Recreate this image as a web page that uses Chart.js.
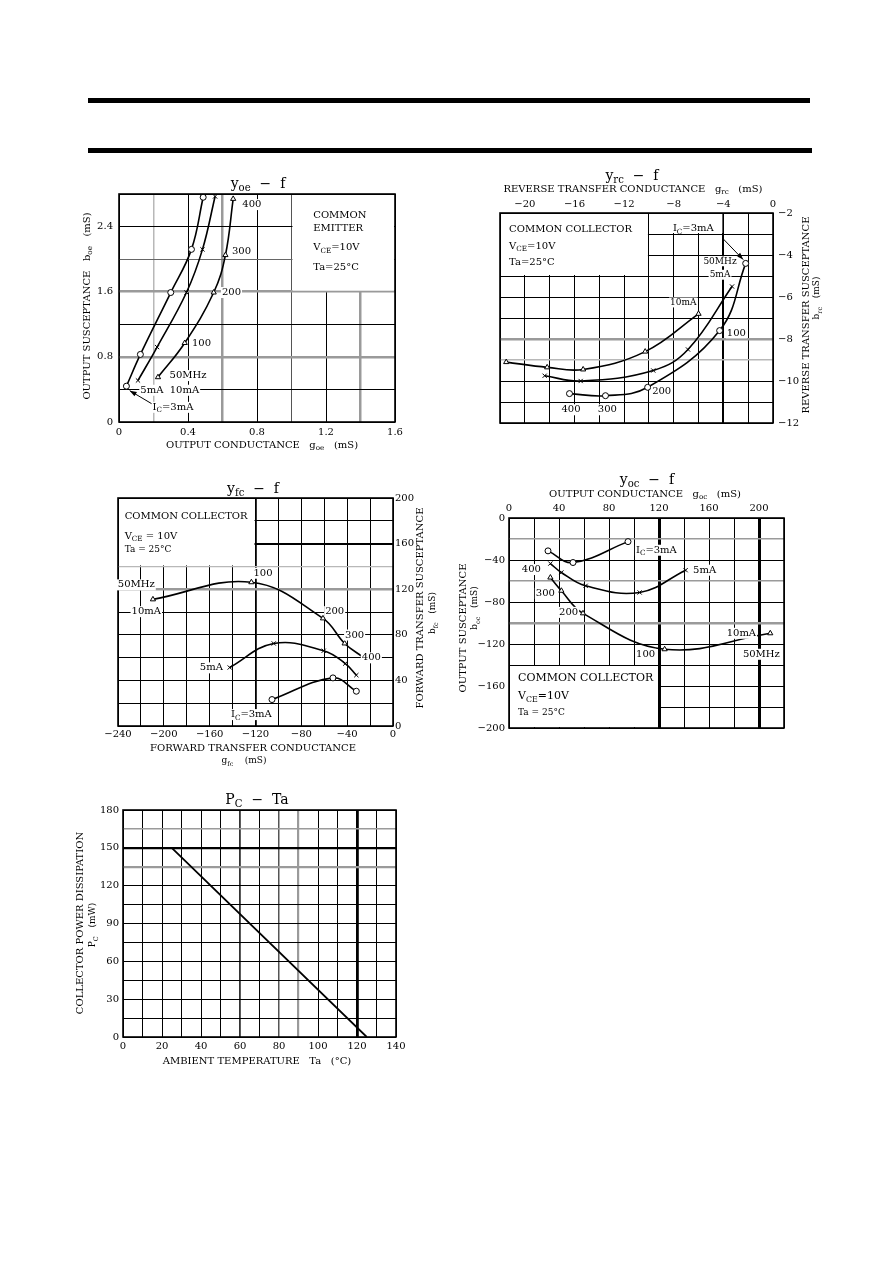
<!DOCTYPE html>
<html><head><meta charset="utf-8">
<script src="https://cdn.jsdelivr.net/npm/chart.js@4.4.1/dist/chart.umd.min.js"></script>
<style>
html,body{margin:0;padding:0;background:#fff;}
body{width:892px;height:1263px;position:relative;overflow:hidden;}
.bar{position:absolute;background:#000;}
.cw{position:absolute;}
</style></head><body>
<div class="bar" style="left:88px;top:98px;width:722px;height:5px"></div>
<div class="bar" style="left:88px;top:148px;width:724px;height:5px"></div>
<div class="cw" id="w1"><canvas id="c1"></canvas></div>
<div class="cw" id="w2"><canvas id="c2"></canvas></div>
<div class="cw" id="w3"><canvas id="c3"></canvas></div>
<div class="cw" id="w4"><canvas id="c4"></canvas></div>
<div class="cw" id="w5"><canvas id="c5"></canvas></div>
<script>
// ---------------- DATA ----------------
// Frequencies of the marked points on each curve (50MHz ... 400MHz)
const freqLabels = ['50MHz', '100', '200', '300', '400'];

// yoe - f (common emitter): g_oe (mS) vs b_oe (mS)
const yoeG_3mA  = [0.043, 0.124, 0.300, 0.420, 0.488];
const yoeB_3mA  = [0.44, 0.83, 1.59, 2.12, 2.76];
const yoeG_5mA  = [0.110, 0.221, 0.391, 0.484, 0.557];
const yoeB_5mA  = [0.51, 0.92, 1.59, 2.12, 2.77];
const yoeG_10mA = [0.226, 0.381, 0.549, 0.617, 0.662];
const yoeB_10mA = [0.55, 0.97, 1.59, 2.05, 2.74];
const yoeXLabels = [0, 0.4, 0.8, 1.2, 1.6];
const yoeYLabels = [0, 0.8, 1.6, 2.4];

// yrc - f (common collector): g_rc (mS) vs b_rc (mS)
const yrcG_3mA  = [-2.2, -4.3, -10.1, -13.5, -16.4];
const yrcB_3mA  = [-4.4, -7.6, -10.3, -10.7, -10.6];
const yrcG_5mA  = [-3.3, -6.85, -9.65, -15.5, -18.4];
const yrcB_5mA  = [-5.5, -8.5, -9.5, -10.0, -9.75];
const yrcG_10mA = [-6.0, -10.3, -15.3, -18.2, -21.5];
const yrcB_10mA = [-6.8, -8.6, -9.45, -9.35, -9.1];
const yrcXLabels = [-20, -16, -12, -8, -4, 0];
const yrcYLabels = [-2, -4, -6, -8, -10, -12];

// yfc - f (common collector): g_fc (mS) vs b_fc (mS)
const yfcG_10mA = [-209.5, -123.6, -61.1, -42.2, -25.3];
const yfcB_10mA = [111.1, 126.1, 94.4, 72.4, 59.8];
const yfcG_5mA  = [-142.5, -104.1, -60.5, -41.6, -32.0];
const yfcB_5mA  = [51.3, 72.4, 66.0, 54.8, 44.6];
const yfcG_3mA  = [-105.6, -52.4, -32.0];
const yfcB_3mA  = [23.2, 42.2, 30.5];
const yfcXLabels = [-240, -200, -160, -120, -80, -40, 0];
const yfcYLabels = [0, 40, 80, 120, 160, 200];

// yoc - f (common collector): g_oc (mS) vs b_oc (mS)
const yocG_3mA  = [95.2, 51.2, 31.2];
const yocB_3mA  = [-22.5, -42.4, -31.3];
const yocG_5mA  = [141.3, 104.5, 61.3, 41.9, 33.1];
const yocB_5mA  = [-49.7, -70.9, -64.6, -51.9, -43.4];
const yocG_10mA = [209.0, 124.5, 59.2, 41.9, 33.1];
const yocB_10mA = [-109.8, -125.0, -90.8, -69.3, -56.7];
const yocXLabels = [0, 40, 80, 120, 160, 200];
const yocYLabels = [0, -40, -80, -120, -160, -200];

// Pc - Ta derating
const pcTemp  = [0, 25, 125];
const pcPower = [150, 150, 0];
const pcXLabels = [0, 20, 40, 60, 80, 100, 120, 140];
const pcYLabels = [0, 30, 60, 90, 120, 150, 180];

// ---------------- HELPERS ----------------
const SERIF = '"DejaVu Serif", "Liberation Serif", serif';
const FS = 10;
const PAD = 80;
const AX_H = 30, AX_W = 40;

function near(v, arr) { return arr.some(a => Math.abs(a - v) < 1e-6); }
function fmt(v) { const n = Math.round(v * 1000) / 1000; return (n < 0 ? '\u2212' : '') + String(Math.abs(n)); }

function gridStyle(spec) {
  const find = v => spec.find(s => Math.abs(s[0] - v) < 1e-6);
  return {
    drawTicks: false,
    color: c => { const s = c.tick && find(c.tick.value); return s ? s[1] : '#000'; },
    lineWidth: c => { const s = c.tick && find(c.tick.value); return s ? s[2] : 1; }
  };
}

function axis(pos, min, max, step, labels, spec, pad) {
  const horiz = pos === 'top' || pos === 'bottom';
  return {
    type: 'linear', position: pos, min: min, max: max,
    afterBuildTicks: s => {
      const t = [];
      const n = Math.round((max - min) / step);
      for (let i = 0; i <= n; i++) t.push({ value: Math.round((min + i * step) * 1e6) / 1e6 });
      s.ticks = t;
    },
    ticks: {
      autoSkip: false, maxRotation: 0, minRotation: 0, padding: pad, color: '#000',
      font: { family: SERIF, size: FS },
      callback: v => near(v, labels) ? fmt(v) : ''
    },
    grid: gridStyle(spec),
    border: { display: false },
    title: { display: false },
    afterFit: s => {
      if (horiz) s.height = AX_H; else s.width = AX_W;
      s.paddingLeft = 0; s.paddingRight = 0; s.paddingTop = 0; s.paddingBottom = 0;
    }
  };
}

function series(xs, ys, style) {
  return {
    data: xs.map((v, i) => ({ x: v, y: ys[i] })),
    showLine: true, tension: 0.4,
    borderColor: '#000', borderWidth: 1.6,
    pointStyle: style, pointRadius: style ? 3 : 0, pointBorderWidth: 1,
    pointBorderColor: '#000', pointBackgroundColor: '#fff'
  };
}

function parseRich(s) {
  const runs = []; const re = /_\{([^}]*)\}/g; let last = 0, m;
  while ((m = re.exec(s))) {
    if (m.index > last) runs.push({ t: s.slice(last, m.index), sub: false });
    runs.push({ t: m[1], sub: true }); last = re.lastIndex;
  }
  if (last < s.length) runs.push({ t: s.slice(last), sub: false });
  return runs;
}
function drawRich(ctx, s, x, y, size, align, rot, bg) {
  const runs = parseRich(s);
  const f = sz => sz + 'px ' + SERIF;
  let w = 0;
  runs.forEach(r => { ctx.font = f(r.sub ? size * 0.72 : size); r.w = ctx.measureText(r.t).width; w += r.w; });
  ctx.save(); ctx.translate(x, y); if (rot) ctx.rotate(rot * Math.PI / 180);
  let cx = align === 'left' ? 0 : align === 'right' ? -w : -w / 2;
  if (bg) { ctx.fillStyle = '#fff'; ctx.fillRect(cx - 1, -size * 0.55, w + 2, size * 1.1); }
  ctx.textBaseline = 'middle'; ctx.textAlign = 'left'; ctx.fillStyle = '#000';
  runs.forEach(r => { ctx.font = f(r.sub ? size * 0.72 : size); ctx.fillText(r.t, cx, r.sub ? size * 0.32 : 0); cx += r.w; });
  ctx.restore();
}

const sheetPlugin = {
  id: 'sheet',
  beforeDatasetsDraw(chart, args, o) {
    const { ctx } = chart; const x = chart.scales.x, y = chart.scales.y;
    ctx.save(); ctx.fillStyle = '#fff';
    (o.blanks || []).forEach(b => {
      const x1 = x.getPixelForValue(b[0]), x2 = x.getPixelForValue(b[1]);
      const y1 = y.getPixelForValue(b[2]), y2 = y.getPixelForValue(b[3]);
      ctx.fillRect(Math.min(x1, x2) + 1, Math.min(y1, y2) + 1, Math.abs(x2 - x1) - 2, Math.abs(y2 - y1) - 2);
    });
    ctx.restore();
  },
  afterDatasetsDraw(chart, args, o) {
    const { ctx, chartArea: a } = chart; const x = chart.scales.x, y = chart.scales.y;
    ctx.save();
    ctx.strokeStyle = '#000'; ctx.lineWidth = 1.6;
    ctx.strokeRect(a.left, a.top, a.right - a.left, a.bottom - a.top);
    (o.arrows || []).forEach(r => {
      const x1 = x.getPixelForValue(r[0]), y1 = y.getPixelForValue(r[1]);
      const x2 = x.getPixelForValue(r[2]), y2 = y.getPixelForValue(r[3]);
      const ang = Math.atan2(y2 - y1, x2 - x1);
      ctx.lineWidth = 1; ctx.beginPath(); ctx.moveTo(x1, y1); ctx.lineTo(x2, y2); ctx.stroke();
      ctx.fillStyle = '#000'; ctx.beginPath();
      ctx.moveTo(x2, y2);
      ctx.lineTo(x2 - 7 * Math.cos(ang) + 2.5 * Math.sin(ang), y2 - 7 * Math.sin(ang) - 2.5 * Math.cos(ang));
      ctx.lineTo(x2 - 7 * Math.cos(ang) - 2.5 * Math.sin(ang), y2 - 7 * Math.sin(ang) + 2.5 * Math.cos(ang));
      ctx.closePath(); ctx.fill();
    });
    ctx.restore();
  },
  afterDraw(chart, args, o) {
    const { ctx, chartArea: a } = chart; const x = chart.scales.x, y = chart.scales.y;
    (o.texts || []).forEach(t => {
      let px, py;
      if (t.d) { px = x.getPixelForValue(t.d[0]); py = y.getPixelForValue(t.d[1]); }
      else { px = a.left + t.a[0]; py = a.top + t.a[1]; }
      drawRich(ctx, t.s, px, py, t.size || FS, t.align || 'center', t.rot || 0, t.bg);
    });
  }
};

function makeChart(n, box, xAx, yAx, datasets, sheet) {
  const [L, T, R, B] = box;
  const w = document.getElementById('w' + n);
  w.style.left = (L - PAD) + 'px'; w.style.top = (T - PAD) + 'px';
  w.style.width = (R - L + 2 * PAD) + 'px'; w.style.height = (B - T + 2 * PAD) + 'px';
  const padding = { left: PAD, right: PAD, top: PAD, bottom: PAD };
  padding[xAx.position] -= AX_H;
  padding[yAx.position] -= AX_W;
  return new Chart(document.getElementById('c' + n), {
    type: 'scatter',
    data: { datasets: datasets },
    options: {
      responsive: true, maintainAspectRatio: false, animation: false,
      devicePixelRatio: 1,
      layout: { padding: padding },
      scales: { x: xAx, y: yAx },
      plugins: { legend: { display: false }, tooltip: { enabled: false }, title: { display: false }, sheet: sheet }
    },
    plugins: [sheetPlugin]
  });
}

const G = '#9a9a9a', G2 = '#b8b8b8';

// ---------------- CHART 1: yoe - f ----------------
makeChart(1, [119, 194, 395, 422],
  axis('bottom', 0, 1.6, 0.2, yoeXLabels, [[0.2, G2, 1.5], [0.6, G, 2.5], [1.0, '#555', 1], [1.4, G, 2.5]], 4),
  axis('left', 0, 2.8, 0.4, yoeYLabels, [[0.8, G, 2.5], [1.6, G, 2.5], [2.0, '#666', 1]], 6),
  [series(yoeG_3mA, yoeB_3mA, 'circle'), series(yoeG_5mA, yoeB_5mA, 'crossRot'), series(yoeG_10mA, yoeB_10mA, 'triangle')],
  {
    blanks: [[1.0, 1.6, 1.6, 2.8]],
    arrows: [[0.205, 0.205, 0.062, 0.385]],
    texts: [
      { s: 'y_{oe}  \u2212  f', a: [139, -10], size: 14 },
      { s: 'OUTPUT CONDUCTANCE   g_{oe}   (mS)', a: [143, 251] },
      { s: 'OUTPUT SUSCEPTANCE   b_{oe}   (mS)', a: [-32, 112], rot: -90 },
      { s: freqLabels[4], d: [0.77, 2.67], bg: true },
      { s: freqLabels[3], d: [0.71, 2.10], bg: true },
      { s: freqLabels[2], d: [0.652, 1.59], bg: true },
      { s: freqLabels[1], d: [0.478, 0.96], bg: true },
      { s: freqLabels[0], d: [0.40, 0.57], bg: true },
      { s: '5mA  10mA', d: [0.294, 0.39], bg: true },
      { s: 'I_{C}=3mA', d: [0.313, 0.18], bg: true },
      { s: 'COMMON', d: [1.126, 2.54], align: 'left' },
      { s: 'EMITTER', d: [1.126, 2.38], align: 'left' },
      { s: 'V_{CE}=10V', d: [1.126, 2.14], align: 'left' },
      { s: 'Ta=25\u00B0C', d: [1.126, 1.90], align: 'left' }
    ]
  });

// ---------------- CHART 2: yrc - f ----------------
makeChart(2, [500, 213, 773, 423],
  axis('top', -22, 0, 2, yrcXLabels, [[-4, '#000', 2]], 3),
  axis('right', -12, -2, 1, yrcYLabels, [[-8, G, 2.5], [-9, G2, 1.5]], 5),
  [series(yrcG_3mA, yrcB_3mA, 'circle'), series(yrcG_5mA, yrcB_5mA, 'crossRot'), series(yrcG_10mA, yrcB_10mA, 'triangle')],
  {
    blanks: [[-22, -10, -5, -2], [-10, -4, -3, -2]],
    arrows: [[-4.0, -3.24, -2.4, -4.22]],
    texts: [
      { s: 'y_{rc}  \u2212  f', a: [132, -37], size: 14 },
      { s: 'REVERSE TRANSFER CONDUCTANCE   g_{rc}   (mS)', a: [133, -24] },
      { s: 'REVERSE TRANSFER SUSCEPTANCE', a: [306, 102], rot: -90 },
      { s: 'b_{rc}   (mS)', a: [317, 85], rot: -90, size: 9 },
      { s: 'COMMON COLLECTOR', d: [-21.27, -2.8], align: 'left' },
      { s: 'V_{CE}=10V', d: [-21.27, -3.59], align: 'left' },
      { s: 'Ta=25\u00B0C', d: [-21.27, -4.35], align: 'left' },
      { s: 'I_{C}=3mA', d: [-6.42, -2.75] },
      { s: freqLabels[0], d: [-4.27, -4.3], bg: true, size: 9 },
      { s: '5mA', d: [-4.27, -4.94], bg: true, size: 9 },
      { s: '10mA', d: [-7.23, -6.26], bg: true, size: 9 },
      { s: freqLabels[1], d: [-2.95, -7.71], bg: true },
      { s: freqLabels[2], d: [-8.97, -10.5], bg: true },
      { s: freqLabels[4], d: [-16.28, -11.37], bg: true },
      { s: freqLabels[3], d: [-13.35, -11.37], bg: true }
    ]
  });

// ---------------- CHART 3: yfc - f ----------------
makeChart(3, [118, 498, 393, 726],
  axis('bottom', -240, 0, 20, yfcXLabels, [[-120, '#000', 1.8]], 2),
  axis('right', 0, 200, 20, yfcYLabels, [[120, G, 2.5], [140, G2, 1.2], [160, '#000', 2]], 2),
  [series(yfcG_10mA, yfcB_10mA, 'triangle'), series(yfcG_5mA, yfcB_5mA, 'crossRot'), series(yfcG_3mA, yfcB_3mA, 'circle')],
  {
    blanks: [[-240, -120, 140, 200]],
    texts: [
      { s: 'y_{fc}  \u2212  f', a: [135, -9], size: 14 },
      { s: 'FORWARD TRANSFER CONDUCTANCE', a: [135, 250] },
      { s: 'g_{fc}    (mS)', a: [126, 263], size: 9 },
      { s: 'FORWARD TRANSFER SUSCEPTANCE', a: [302, 110], rot: -90 },
      { s: 'b_{fc}   (mS)', a: [315, 115], rot: -90, size: 9 },
      { s: 'COMMON COLLECTOR', d: [-234.2, 183.9], align: 'left' },
      { s: 'V_{CE} = 10V', d: [-234.2, 166.3], align: 'left' },
      { s: 'Ta = 25\u00B0C', d: [-234.2, 154.5], align: 'left', size: 9 },
      { s: freqLabels[0], d: [-224, 123.8], bg: true },
      { s: '10mA', d: [-215.3, 100.3], bg: true },
      { s: freqLabels[1], d: [-113.5, 134], bg: true },
      { s: freqLabels[2], d: [-50.9, 100.3], bg: true },
      { s: freqLabels[3], d: [-33.5, 79.8], bg: true },
      { s: freqLabels[4], d: [-18.9, 59.8], bg: true },
      { s: '5mA', d: [-158.5, 51], bg: true },
      { s: 'I_{C}=3mA', d: [-123.6, 10], bg: true }
    ]
  });

// ---------------- CHART 4: yoc - f ----------------
makeChart(4, [509, 518, 784, 728],
  axis('top', 0, 220, 20, yocXLabels, [[120, '#000', 3], [200, '#000', 3]], 4),
  axis('left', -200, 0, 20, yocYLabels, [[-20, G, 1.5], [-60, G, 1.5], [-100, G, 2.5]], 4),
  [series(yocG_3mA, yocB_3mA, 'circle'), series(yocG_5mA, yocB_5mA, 'crossRot'), series(yocG_10mA, yocB_10mA, 'triangle')],
  {
    blanks: [[0, 120, -200, -140]],
    texts: [
      { s: 'y_{oc}  \u2212  f', a: [138, -38], size: 14 },
      { s: 'OUTPUT CONDUCTANCE   g_{oc}   (mS)', a: [136, -24] },
      { s: 'OUTPUT SUSCEPTANCE', a: [-46, 110], rot: -90 },
      { s: 'b_{oc}   (mS)', a: [-34, 90], rot: -90, size: 9 },
      { s: 'I_{C}=3mA', d: [117.9, -30.7], bg: true },
      { s: '5mA', d: [156.5, -49.7], bg: true },
      { s: freqLabels[4], d: [17.9, -49.1], bg: true },
      { s: freqLabels[3], d: [29.1, -71.8], bg: true },
      { s: freqLabels[2], d: [47.7, -89.9], bg: true },
      { s: freqLabels[1], d: [109.3, -129.8], bg: true },
      { s: '10mA', d: [185.9, -109.8], bg: true },
      { s: freqLabels[0], d: [201.9, -129.8], bg: true },
      { s: 'COMMON COLLECTOR', d: [7.2, -152.5], align: 'left', size: 11 },
      { s: 'V_{CE}=10V', d: [7.2, -170], align: 'left', size: 11 },
      { s: 'Ta = 25\u00B0C', d: [7.2, -185.8], align: 'left', size: 9 }
    ]
  });

// ---------------- CHART 5: Pc - Ta ----------------
makeChart(5, [123, 810, 396, 1037],
  axis('bottom', 0, 140, 10, pcXLabels, [[60, '#333', 1.8], [80, '#555', 1.5], [90, G, 2.2], [120, '#000', 2.8]], 3),
  axis('left', 0, 180, 15, pcYLabels, [[150, '#000', 2.2], [135, G, 2.2], [165, G, 1.5]], 4),
  [Object.assign(series(pcTemp, pcPower, false), { tension: 0, borderWidth: 1.8 })],
  {
    texts: [
      { s: 'P_{C}  \u2212  Ta', a: [134, -10], size: 14 },
      { s: 'AMBIENT TEMPERATURE   Ta   (\u00B0C)', a: [134, 251] },
      { s: 'COLLECTOR POWER DISSIPATION', a: [-43, 113], rot: -90 },
      { s: 'P_{C}   (mW)', a: [-30, 115], rot: -90, size: 9 }
    ]
  });
</script>
</body></html>
